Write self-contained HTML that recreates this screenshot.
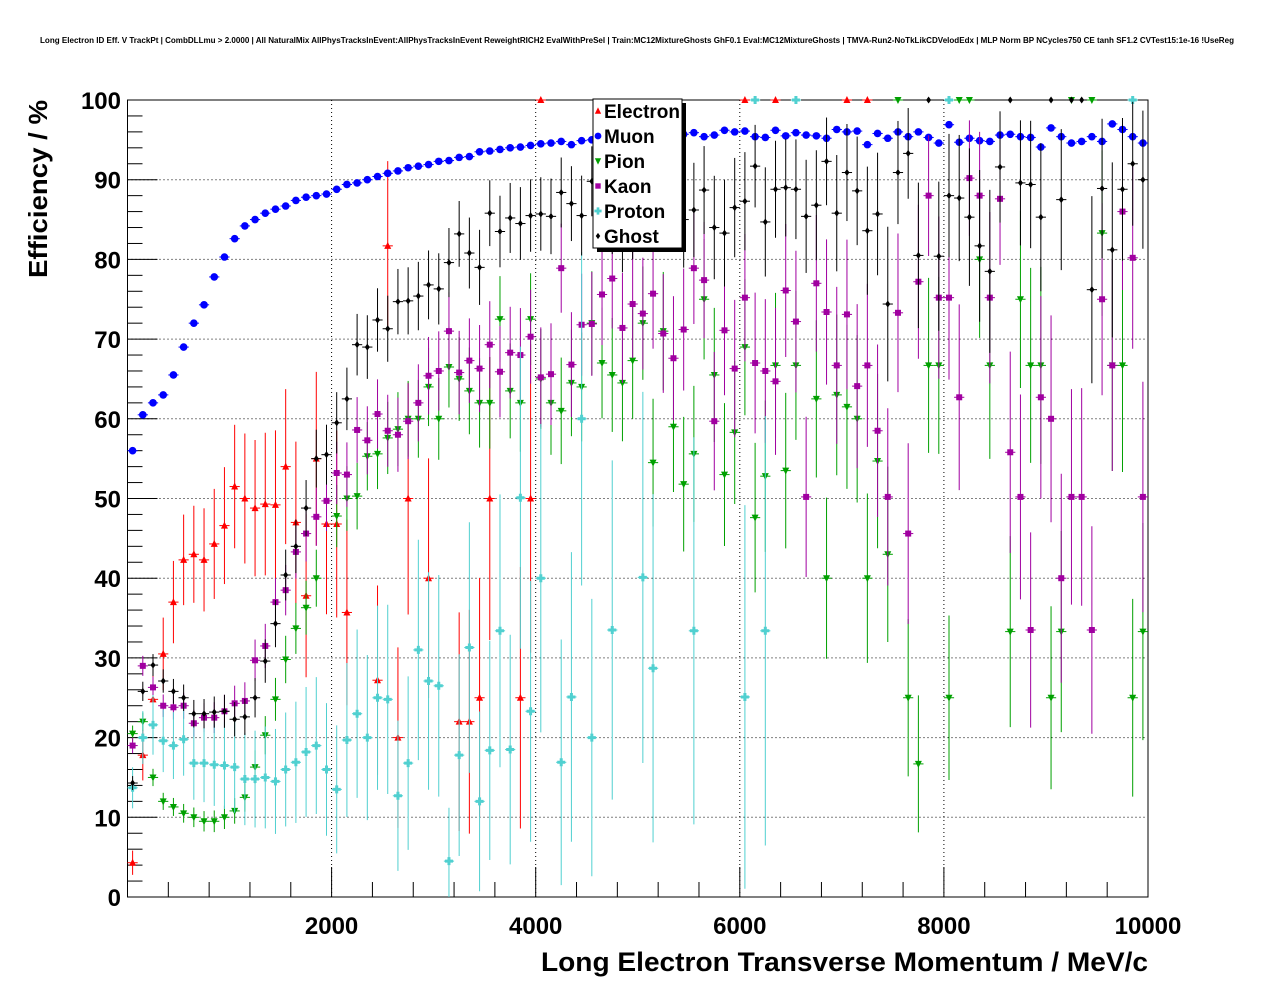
<!DOCTYPE html>
<html><head><meta charset="utf-8"><style>
body{margin:0;background:#fff;}
svg{display:block;font-family:"Liberation Sans",sans-serif;}
</style></head><body>
<svg id="chart" width="1276" height="996">
<text x="637" y="43" font-size="8" font-weight="bold" text-anchor="middle" textLength="1194" lengthAdjust="spacingAndGlyphs">Long Electron ID Eff. V TrackPt | CombDLLmu &gt; 2.0000 | All NaturalMix AllPhysTracksInEvent:AllPhysTracksInEvent ReweightRICH2 EvalWithPreSel | Train:MC12MixtureGhosts GhF0.1 Eval:MC12MixtureGhosts | TMVA-Run2-NoTkLikCDVelodEdx | MLP Norm BP NCycles750 CE tanh SF1.2 CVTest15:1e-16 !UseReg</text>
<g id="grid"></g>
<rect x="127.5" y="100" width="1020.5" height="797" fill="none" stroke="#000" stroke-width="1"/>
<g id="axes"></g>
<g id="series"></g>
<text transform="translate(47,278) rotate(-90)" font-size="26" font-weight="bold" textLength="178" lengthAdjust="spacingAndGlyphs">Efficiency / %</text>
<text x="1148" y="971" font-size="27" font-weight="bold" text-anchor="end" textLength="607" lengthAdjust="spacingAndGlyphs">Long Electron Transverse Momentum / MeV/c</text>
<g>
<rect x="597" y="103" width="89" height="149" fill="#000"/>
<rect x="593" y="99" width="89" height="149" fill="#fff" stroke="#000" stroke-width="1"/>
<g id="legend-items"></g>
</g>
</svg>
<script>
const xMin=0,xMax=10000,yMin=0,yMax=100;
const X0=127.5,X1=1148,Y0=897,Y1=100;
function sx(v){return X0+(v-xMin)/(xMax-xMin)*(X1-X0);}
function sy(v){return Y0-(v-yMin)/(yMax-yMin)*(Y0-Y1);}
const xTicks=[2000,4000,6000,8000,10000];
const yTicks=[0,10,20,30,40,50,60,70,80,90,100];
const binWidth=100;
const N=null;
const electron=[4.3,17.8,24.8,30.5,37,42.3,43,42.3,44.3,46.6,51.5,50,48.8,49.3,49.2,54,47,37.8,55,46.8,46.8,35.7,N,N,27.2,81.7,20,50,N,40,N,N,22,22,25,50,N,N,25,50,100,N,N,N,N,N,N,N,N,N,N,N,N,N,N,N,N,N,N,N,100,N,N,100,N,N,N,N,N,N,100,N,100,N,N,N,N,N,N,N,N,N,N,N,N,N,N,N,N,N,N,N,N,N,N,N,N,N,N,N];
const muon=[56,60.5,62,63,65.5,69,72,74.3,77.8,80.3,82.6,84.2,85,85.8,86.3,86.7,87.4,87.8,88,88.2,88.8,89.4,89.6,90,90.4,90.8,91.1,91.5,91.7,91.9,92.3,92.4,92.8,92.9,93.5,93.6,93.8,94,94.1,94.3,94.5,94.6,94.8,94.4,94.9,95,95.1,95.3,95.6,95.5,95.3,95.8,95.2,95.4,95.7,95.9,95.4,95.6,96.2,96,96.1,95.4,95.3,96.2,95.5,95.9,95.6,95.5,95.2,96.3,96,96.1,94.4,95.8,95.2,96,95.4,96,95.3,94.6,96.9,94.7,95.2,94.9,94.8,95.6,95.7,95.4,95.3,94.1,96.5,95.4,94.6,94.8,95.4,94.8,97,96.3,95.4,94.6];
const pion=[20.5,22,15,12,11.3,10.5,10,9.5,9.5,10,10.8,12.5,16.3,20.3,24.8,29.8,33.7,36.3,40,N,47.8,50,50.3,55.3,55.6,57.6,58.7,60,60,64,60,66.5,65,63.5,62,62,72.5,63.5,62,72.5,65,62,61,64.5,64,72,67,65.5,64.5,67.3,72,54.5,71,59,51.8,55.6,75,65.5,53,58.3,69,47.6,52.8,66.7,53.5,66.7,N,62.5,40,63,61.5,60,40,54.7,43,100,25,16.7,66.7,66.7,25,100,100,80,66.7,N,33.3,75,66.7,66.7,25,33.3,100,N,100,83.3,66.7,66.7,25,33.3];
const kaon=[19,29,26.3,24,23.8,24,21.8,22.5,22.5,23.3,24.3,24.6,29.7,31.5,37,38.5,43.3,45.6,47.7,49.7,53.2,53,58.6,57.3,60.6,58.5,58,59.7,62,65.4,66,71,65.8,67.3,66.3,69.3,65.9,68.3,68,70.3,65.2,65.6,78.9,66.8,71.8,71.9,75.6,77.6,71.4,74.4,73.2,75.7,70.7,67.6,71.2,78.9,77.4,59.7,71.1,66.3,75.2,67,66,64.7,76.1,72.2,50.2,77,73.4,66.7,73.1,64.1,66.7,58.5,50.2,73.3,45.6,77.2,88,75.2,75.2,62.7,90.2,88,75.2,87.6,55.8,50.2,33.5,62.7,60,40,50.2,50.2,33.5,75,66.7,86,80.2,50.2];
const proton=[13.7,20,21.6,19.6,19,19.8,16.8,16.8,16.6,16.5,16.3,14.8,14.8,15,14.5,16,16.9,18.2,19,16,13.5,19.7,23,20,25,24.8,12.7,16.8,31,27.1,26.5,4.5,17.8,31.3,12,18.4,33.4,18.5,50.1,23.3,40,N,16.9,25.1,60,20,N,33.5,N,N,40.1,28.7,N,N,N,33.4,N,N,N,N,25.1,100,33.4,N,N,100,N,N,N,N,N,N,N,N,N,N,N,N,N,N,100,N,N,N,N,N,N,N,N,N,N,N,N,N,N,N,N,N,100,N];
const ghost=[14.3,25.8,29.1,27.1,25.8,25,23,23,23.2,23.3,22.3,22.6,25,29.6,34.3,40.4,44,48.8,55,55.5,59.5,62.5,69.3,69,72.4,71.3,74.7,74.8,75.4,76.8,76.3,79.6,83.2,80.8,79,85.8,83.5,85.2,84.5,85.5,85.7,85.4,88.4,87,85.5,89.8,89.2,85.9,84,85.5,90.7,87.3,89,90.9,85,86.2,88.7,84,83.3,86.5,87.3,91.7,84.7,88.8,89,88.8,85.4,86.8,92.3,85.8,90.9,88.6,83.6,85.7,74.4,90.9,93.3,80.5,100,80.4,88,87.7,85.3,81.7,78.5,91.6,100,89.6,89.4,85.3,100,87.5,100,100,76.2,88.9,81.2,88.8,92,90];
const seriesNames=["Electron","Muon","Pion","Kaon","Proton","Ghost"];
const seriesColors=["#ff0000","#0000ff","#00a000","#a000a0","#50d0d0","#000000"];
const seriesData=[electron,muon,pion,kaon,proton,ghost];
const ns="http://www.w3.org/2000/svg";
function mk(tag,attrs,parent){const e=document.createElementNS(ns,tag);for(const k in attrs)e.setAttribute(k,attrs[k]);parent.appendChild(e);return e;}
const grid=document.getElementById('grid'),axes=document.getElementById('axes'),ser=document.getElementById('series');
xTicks.forEach(t=>{
  const l=mk('line',{x1:sx(t),x2:sx(t),y1:Y1,y2:Y0,stroke:'#000','stroke-dasharray':'1,3','stroke-width':1},grid);
  
  
  const tx=mk('text',{x:sx(t),y:934,'font-size':24,'font-weight':'bold','text-anchor':'middle'},axes);
  tx.textContent=t;
  
  
});
for(let v=0;v<=10000;v+=400){const big=v%2000===0;mk('line',{x1:sx(v),x2:sx(v),y1:Y0,y2:Y0-(big?30:15),stroke:'#000'},axes);}
yTicks.forEach(t=>{
  const l=mk('line',{x1:X0,x2:X1,y1:sy(t),y2:sy(t),stroke:'#000','stroke-dasharray':'1,3','stroke-width':1},grid);
  
  
  const tx=mk('text',{x:121,y:sy(t)+9,'font-size':24,'font-weight':'bold','text-anchor':'end'},axes);
  tx.textContent=t;
  
  
});
for(let v=0;v<=100;v+=2){const big=v%10===0;mk('line',{x1:X0,x2:X0+(big?30:15),y1:sy(v),y2:sy(v),stroke:'#000'},axes);}
function marker(i,cx,cy,parent,s){
  s=s||1;
  const c=seriesColors[i];
  if(i===0)return mk('polygon',{points:`${cx},${cy-4*s} ${cx-3.5*s},${cy+3*s} ${cx+3.5*s},${cy+3*s}`,fill:c},parent);
  if(i===1)return mk('circle',{cx:cx,cy:cy,r:3.8*s,fill:c},parent);
  if(i===2)return mk('polygon',{points:`${cx},${cy+4*s} ${cx-3.5*s},${cy-3*s} ${cx+3.5*s},${cy-3*s}`,fill:c},parent);
  if(i===3)return mk('rect',{x:cx-3*s,y:cy-3*s,width:6*s,height:6*s,fill:c},parent);
  if(i===4)return mk('path',{d:`M${cx-1.5*s},${cy-4*s}h${3*s}v${2.5*s}h${2.5*s}v${3*s}h${-2.5*s}v${2.5*s}h${-3*s}v${-2.5*s}h${-2.5*s}v${-3*s}h${2.5*s}z`,fill:c},parent);
  return mk('polygon',{points:`${cx},${cy-3.5*s} ${cx-2.5*s},${cy} ${cx},${cy+3.5*s} ${cx+2.5*s},${cy}`,fill:c},parent);
}
seriesData.forEach((arr,si)=>{
  const g=mk('g',{},ser);
  
  
  arr.forEach((v,b)=>{
    if(v===null)return;
    const xc=(b+0.5)*binWidth;
    const cx=sx(xc),cy=sy(v);
    const prog=si===1?0.15:(0.3+b/100*3.2);
    let err=si===1?0.4:Math.min(40,Math.max(0.6,Math.sqrt(Math.max(v*(100-v),50))/12*prog*(si===0||si===4?3:1)));
    if(v>=100||v<=0)err=0;
    const lo=Math.max(0,v-err),hi=Math.min(100,v+err);
    mk('line',{x1:sx(xc-binWidth/2),x2:sx(xc+binWidth/2),y1:cy,y2:cy,stroke:seriesColors[si],'stroke-width':1},g);
    if(err>0)mk('line',{x1:cx,x2:cx,y1:sy(lo),y2:sy(hi),stroke:seriesColors[si],'stroke-width':1},g);
    const m=marker(si,cx,cy,g);
    
    
  });
});
const li=document.getElementById('legend-items');
seriesNames.forEach((n,i)=>{
  const y=111+i*25;
  const g=mk('g',{},li);
  
  
  marker(i,598,y,g,0.9);
  const t=mk('text',{x:604,y:y+7,'font-size':19,'font-weight':'bold'},g);
  t.textContent=n;
});
</script>
</body></html>
